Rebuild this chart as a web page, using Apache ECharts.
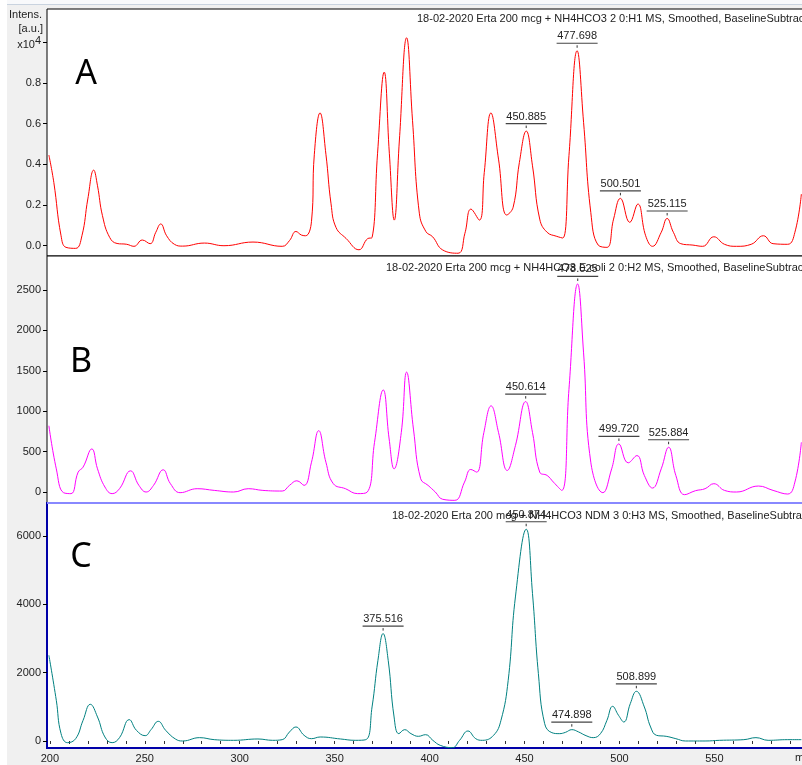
<!DOCTYPE html>
<html>
<head>
<meta charset="utf-8">
<script src="https://cdn.jsdelivr.net/npm/echarts@6/dist/echarts.min.js"></script>
<style>
html,body{margin:0;padding:0;background:#f0f0f0;}
#chart{width:802px;height:765px;}
</style>
</head>
<body>
<div id="chart"></div>
<script>
// ---------- DATA ----------
const mzA = [199.5,202.1,205.9,208.5,213.6,216.9,220.0,223.1,225.1,227.7,231.5,235.4,240.5,244.3,248.7,252.8,255.8,258.4,261.5,265.6,269.9,281.4,291.7,307.0,322.4,326.2,329.6,332.6,334.7,337.8,339.3,342.3,345.4,348.1,350.7,356.0,362.8,367.4,369.7,372.6,376.1,378.8,381.4,384.1,387.9,391.0,394.6,398.1,401.6,406.9,415.0,418.6,421.8,426.2,428.8,432.3,436.3,440.6,444.0,447.3,450.9,454.2,458.0,461.9,467.0,470.1,473.4,477.7,481.1,484.9,488.8,493.4,496.9,500.5,505.4,509.7,513.8,517.4,522.0,525.1,528.4,532.3,538.7,543.8,549.7,555.3,561.7,569.4,575.8,580.9,588.6,592.4,595.8];
const intA = [0.446,0.311,0.049,-0.008,-0.013,0.049,0.230,0.372,0.295,0.148,0.041,0.011,0.007,-0.003,0.028,0.010,0.066,0.107,0.049,0.007,-0.002,0.013,0.000,0.018,-0.003,0.025,0.070,0.052,0.049,0.120,0.450,0.653,0.450,0.206,0.090,0.036,-0.020,0.035,0.040,0.455,0.854,0.455,0.126,0.520,1.023,0.617,0.160,0.069,0.044,-0.021,-0.037,0.061,0.180,0.126,0.360,0.653,0.426,0.151,0.189,0.410,0.564,0.393,0.131,0.066,0.046,0.038,0.443,0.959,0.607,0.164,0.003,-0.008,0.131,0.233,0.115,0.205,0.049,-0.003,0.066,0.134,0.066,0.010,0.003,-0.003,0.044,0.007,-0.003,0.007,0.049,0.010,0.007,0.066,0.254];

const mzB = [199.5,203.4,207.2,211.1,214.9,217.5,222.1,225.1,229.0,232.8,236.7,242.5,246.9,250.7,254.6,259.7,263.5,268.6,277.6,286.6,296.8,304.5,312.2,322.4,326.2,330.1,333.9,337.8,341.6,345.4,349.3,355.7,362.1,367.2,371.0,375.6,378.7,381.3,385.1,387.9,391.5,395.3,399.2,403.0,406.9,413.3,418.4,421.7,424.8,428.6,432.4,436.3,440.9,445.2,450.6,454.2,458.0,461.9,465.2,469.6,473.4,478.0,481.1,484.9,491.3,495.9,499.7,504.6,509.2,513.1,517.4,522.0,525.9,529.7,534.3,540.0,545.1,549.7,555.3,561.7,573.2,580.9,588.6,592.4,595.8];
const intB = [820,287,-8,-20,246,308,533,287,62,-20,41,262,82,0,82,275,103,-8,41,20,0,41,20,12,82,139,82,369,759,369,103,41,-20,0,615,1263,656,287,738,1484,779,164,82,0,-90,-103,123,279,246,738,1066,738,267,574,1119,738,246,205,123,20,1271,2575,1722,369,-8,287,595,361,451,205,49,287,554,205,-33,16,41,103,20,0,74,20,-25,123,615];

const mzC = [199.5,203.4,205.9,209.3,213.6,217.5,221.3,225.1,229.0,232.8,236.7,241.8,245.6,250.2,253.3,257.1,261.0,266.1,269.9,278.9,286.6,296.8,309.6,317.3,322.4,326.2,329.6,333.9,337.8,342.4,353.1,360.8,366.4,369.7,372.8,375.5,378.2,381.3,383.8,386.9,390.2,394.1,397.9,401.7,405.6,412.0,415.8,420.2,424.3,427.8,433.7,437.6,441.4,445.2,450.9,454.2,457.3,460.6,464.4,468.3,471.6,474.9,478.5,482.4,486.2,490.0,493.4,496.4,499.5,502.3,505.7,508.9,513.1,516.4,519.5,524.6,529.7,534.8,545.1,552.8,565.5,571.9,578.3,588.6,595.8];
const intC = [2508,1191,215,-49,68,605,1074,703,117,-49,98,625,312,156,332,576,312,59,0,98,39,20,59,20,39,264,410,166,68,117,59,20,39,996,2362,3143,2362,703,215,332,215,137,185,20,-127,-195,20,293,68,20,166,605,1776,4216,6198,4314,1972,508,244,215,254,332,264,156,98,215,605,1015,752,556,1093,1454,996,410,166,137,68,0,0,20,39,98,20,39,39];

const peakMzA = [450.885,477.698,500.501,525.115];
const peakIntA = [0.564,0.959,0.233,0.134];
const peakMzB = [450.614,478.025,499.720,525.884];
const peakIntB = [1119,2575,595,554];
const peakMzC = [375.516,450.874,474.898,508.899];
const peakIntC = [3143,6198,332,1454];

const xLabelVals = [200,250,300,350,400,450,500,550];
const xTickVals = [200,210,220,230,240,250,260,270,280,290,300,310,320,330,340,350,360,370,380,390,400,410,420,430,440,450,460,470,480,490,500,510,520,530,540,550,560,570,580,590];
const yLabelA = [0,0.2,0.4,0.6,0.8,1.0];
const yMinorA = [0.1,0.3,0.5,0.7,0.9,1.1];
const yLabelB = [0,500,1000,1500,2000,2500];
const yMinorB = [-100,100,200,300,400,600,700,800,900,1100,1200,1300,1400,1600,1700,1800,1900,2100,2200,2300,2400,2600,2700,2800,2900];
const yLabelC = [0,2000,4000,6000];
const yMinorC = [1000,3000,5000];

const titleA = '18-02-2020 Erta 200 mcg + NH4HCO3 2 0:H1 MS, Smoothed, BaselineSubtracted';
const titleB = '18-02-2020 Erta 200 mcg + NH4HCO3 E.coli 2 0:H2 MS, Smoothed, BaselineSubtracted';
const titleC = '18-02-2020 Erta 200 mcg + NH4HCO3 NDM 3 0:H3 MS, Smoothed, BaselineSubtracted';
const panelLetters = ['A','B','C'];

// ---------- CHART ----------
const FONT = 'Liberation Sans';
const XMIN = 198.5, XMAX = 599.3;
const pair = (xs, ys) => xs.map((x, i) => [x, ys[i]]);

function peakRenderer(mzs) {
  return function (params, api) {
    const p = api.coord([api.value(0), api.value(1)]);
    const t = mzs[params.dataIndex].toFixed(3);
    return {
      type: 'group',
      children: [
        {type: 'text', x: p[0], y: p[1] - 14.5,
         style: {text: t, fontSize: 11, fontFamily: FONT, fill: '#222', align: 'center', verticalAlign: 'middle'}},
        {type: 'line', shape: {x1: p[0] - 20.5, y1: p[1] - 7.5, x2: p[0] + 20.5, y2: p[1] - 7.5},
         style: {stroke: '#444', lineWidth: 1.2}},
        {type: 'line', shape: {x1: p[0], y1: p[1] - 5.5, x2: p[0], y2: p[1] - 3},
         style: {stroke: '#333', lineWidth: 1}}
      ]
    };
  };
}

function xAx(gi, showLabels) {
  return {
    type: 'value', gridIndex: gi, min: XMIN, max: XMAX,
    axisLine: {show: false}, splitLine: {show: false},
    axisTick: showLabels ? {show: true, length: 3, lineStyle: {color: '#333'}, customValues: xTickVals} : {show: false},
    axisLabel: showLabels ? {show: true, fontSize: 11, fontFamily: FONT, color: '#222', margin: 5, customValues: xLabelVals} : {show: false}
  };
}
function yAx(gi, min, max, labels, fmt) {
  return {
    type: 'value', gridIndex: gi, min: min, max: max,
    axisLine: {show: false}, splitLine: {show: false},
    axisTick: {show: true, length: 4, lineStyle: {color: '#000'}, customValues: labels},
    axisLabel: {show: true, fontSize: 11, fontFamily: FONT, color: '#222', margin: 6, customValues: labels,
      formatter: fmt,
      rich: {m: {fontSize: 11, fontFamily: FONT, color: '#222', padding: [5, 0, 0, 0]}, s: {fontSize: 11, fontFamily: FONT, color: '#222', padding: [0, 0, 2, 0]}}}
  };
}
function yMinor(gi, min, max, vals) {
  return {
    type: 'value', gridIndex: gi, min: min, max: max,
    axisLine: {show: false}, splitLine: {show: false},
    axisTick: {show: true, length: 2.5, lineStyle: {color: '#000'}, customValues: vals},
    axisLabel: {show: false}
  };
}

const A_MIN = -0.0506, A_MAX = 1.1645;
const B_MIN = -136, B_MAX = 2921;
const C_MIN = -205, C_MAX = 6966;

const gridBase = {left: 47, width: 761, show: true, backgroundColor: '#ffffff', borderColor: '#000', borderWidth: 1,
  containLabel: false, outerBoundsMode: 'none'};

const lineCommon = {showSymbol: false, smooth: 0.45};

const option = {
  animation: false,
  backgroundColor: '#f0f0f0',
  grid: [
    Object.assign({}, gridBase, {top: 9, height: 247}),
    Object.assign({}, gridBase, {top: 256, height: 247}),
    Object.assign({}, gridBase, {top: 503, height: 245, borderColor: '#0000a8', borderWidth: 2})
  ],
  xAxis: [xAx(0, false), xAx(1, false), xAx(2, true)],
  yAxis: [
    yAx(0, A_MIN, A_MAX, yLabelA, v => Math.abs(v - 1) < 1e-6 ? '{m|x10}{s|4}' : v.toFixed(1)),
    yMinor(0, A_MIN, A_MAX, yMinorA),
    yAx(1, B_MIN, B_MAX, yLabelB, v => String(Math.round(v))),
    yMinor(1, B_MIN, B_MAX, yMinorB),
    yAx(2, C_MIN, C_MAX, yLabelC, v => String(Math.round(v))),
    yMinor(2, C_MIN, C_MAX, yMinorC)
  ],
  series: [
    Object.assign({type: 'line', xAxisIndex: 0, yAxisIndex: 0, data: pair(mzA, intA),
     lineStyle: {color: '#ff0000', width: 1}, itemStyle: {color: '#ff0000'}}, lineCommon),
    Object.assign({type: 'line', xAxisIndex: 1, yAxisIndex: 2, data: pair(mzB, intB),
     lineStyle: {color: '#ff00ff', width: 1}, itemStyle: {color: '#ff00ff'}}, lineCommon),
    Object.assign({type: 'line', xAxisIndex: 2, yAxisIndex: 4, data: pair(mzC, intC),
     lineStyle: {color: '#008080', width: 1}, itemStyle: {color: '#008080'}}, lineCommon),
    {type: 'custom', xAxisIndex: 0, yAxisIndex: 0, data: pair(peakMzA, peakIntA), renderItem: peakRenderer(peakMzA), clip: false, z: 5},
    {type: 'custom', xAxisIndex: 1, yAxisIndex: 2, data: pair(peakMzB, peakIntB), renderItem: peakRenderer(peakMzB), clip: false, z: 5},
    {type: 'custom', xAxisIndex: 2, yAxisIndex: 4, data: pair(peakMzC, peakIntC), renderItem: peakRenderer(peakMzC), clip: false, z: 5}
  ],
  graphic: [
    {type: 'rect', shape: {x: 0, y: 0, width: 802, height: 5}, style: {fill: '#f8f9fb'}, z: 0, silent: true},
    {type: 'line', shape: {x1: 0, y1: 4.5, x2: 802, y2: 4.5}, style: {stroke: '#c9d3df', lineWidth: 1}, z: 0, silent: true},
    {type: 'rect', shape: {x: 0, y: 0, width: 7, height: 765}, style: {fill: '#ffffff'}, z: 0, silent: true},
    {type: 'line', shape: {x1: 47, y1: 503, x2: 802, y2: 503}, style: {stroke: '#8888ff', lineWidth: 2}, z: 100, silent: true},
    {type: 'text', x: 42, y: 15, style: {text: 'Intens.', fontSize: 11, fontFamily: FONT, fill: '#222', align: 'right', verticalAlign: 'middle'}, z: 100},
    {type: 'text', x: 43, y: 29, style: {text: '[a.u.]', fontSize: 11, fontFamily: FONT, fill: '#222', align: 'right', verticalAlign: 'middle'}, z: 100},
    {type: 'text', x: 417, y: 19, style: {text: titleA, fontSize: 11, fontFamily: FONT, fill: '#222', align: 'left', verticalAlign: 'middle'}, z: 100},
    {type: 'text', x: 386, y: 268, style: {text: titleB, fontSize: 11, fontFamily: FONT, fill: '#222', align: 'left', verticalAlign: 'middle'}, z: 100},
    {type: 'text', x: 392, y: 516, style: {text: titleC, fontSize: 11, fontFamily: FONT, fill: '#222', align: 'left', verticalAlign: 'middle'}, z: 100},
    {type: 'text', x: 86, y: 74, style: {text: panelLetters[0], fontSize: 34, fontFamily: 'Noto Sans', fill: '#000', align: 'center', verticalAlign: 'middle'}, z: 100},
    {type: 'text', x: 81, y: 362, style: {text: panelLetters[1], fontSize: 34, fontFamily: 'Noto Sans', fill: '#000', align: 'center', verticalAlign: 'middle'}, z: 100},
    {type: 'text', x: 81, y: 557, style: {text: panelLetters[2], fontSize: 34, fontFamily: 'Noto Sans', fill: '#000', align: 'center', verticalAlign: 'middle'}, z: 100},
    {type: 'text', x: 795, y: 758, style: {text: 'm/z', fontSize: 11, fontFamily: FONT, fill: '#222', align: 'left', verticalAlign: 'middle'}, z: 100}
  ]
};

const chart = echarts.init(document.getElementById('chart'), null, {renderer: 'canvas'});
chart.setOption(option);
</script>
</body>
</html>
